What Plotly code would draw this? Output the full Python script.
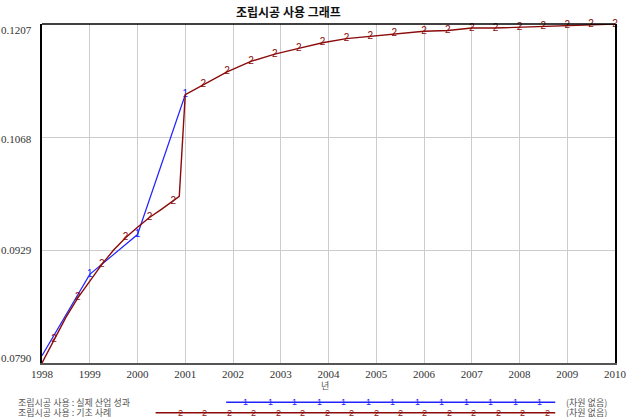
import plotly.graph_objects as go

# ---------------- data ----------------
title_text = "조립시공 사용 그래프"
x_title = "년"
unit_text = "(차원 없음)"

series1_name = "조립시공 사용 : 실제 산업 성과"
series1_t = [1998.0, 1999.0, 2000.0, 2001.0]
series1_v = [0.0799, 0.0899, 0.0948, 0.1120]
series1_mark = ["", "1", "1", "1"]

series2_name = "조립시공 사용 : 기초 사례"
series2_t = [1998.0, 1998.25, 1998.5, 1998.75, 1999.0, 1999.25, 1999.5, 1999.75,
             2000.0, 2000.25, 2000.5, 2000.75, 2000.875, 2001.0, 2001.375, 2001.875,
             2002.375, 2002.875, 2003.375, 2003.875, 2004.375, 2004.875, 2005.375,
             2006.0, 2006.5, 2007.0, 2007.5, 2008.0, 2008.5, 2009.0, 2009.5, 2010.0]
series2_v = [0.0790, 0.0819, 0.0846, 0.0870, 0.0891, 0.0911, 0.0929, 0.0944,
             0.0957, 0.0969, 0.0979, 0.0989, 0.0995, 0.1120, 0.1132, 0.1148,
             0.1161, 0.1170, 0.1177, 0.1184, 0.1189, 0.1192, 0.1195,
             0.1198, 0.1199, 0.1202, 0.1202, 0.1203, 0.1204, 0.1205, 0.1206, 0.1207]
series2_mark = ["", "2", "", "2", "", "2", "", "2",
                "", "2", "", "2", "", "", "2", "2",
                "2", "2", "2", "2", "2", "2", "2",
                "2", "2", "2", "2", "2", "2", "2", "2", "2"]

x_ticks = list(range(1998, 2011))
y_ticks = [0.0790, 0.0929, 0.1068, 0.1207]
y_tick_labels = ["0.0790", "0.0929", "0.1068", "0.1207"]

# ---------------- styling ----------------
BLUE = "#2222ff"
RED = "#8b0a0a"
W, H = 637, 417
L, R, T, B = 42, 10, 24, 54
PW, PH = W - L - R, H - T - B

def px_x(px):
    return (px - L) / PW

def px_y(py):
    return (H - B - py) / PH

fig = go.Figure()

fig.add_trace(go.Scatter(
    x=series1_t, y=series1_v, mode="lines+text", text=series1_mark,
    textposition="middle center",
    textfont=dict(family="Liberation Sans", size=10, color=BLUE),
    line=dict(color=BLUE, width=1.2), name=series1_name, showlegend=False,
    cliponaxis=False, hoverinfo="skip"))

fig.add_trace(go.Scatter(
    x=series2_t, y=series2_v, mode="lines+text", text=series2_mark,
    textposition="middle center",
    textfont=dict(family="Liberation Sans", size=10, color=RED),
    line=dict(color=RED, width=1.4), name=series2_name, showlegend=False,
    cliponaxis=False, hoverinfo="skip"))

annotations = []
shapes = []

# title
annotations.append(dict(text="<b>" + title_text + "</b>", x=px_x(294), y=px_y(12),
                        xref="paper", yref="paper", xanchor="center", yanchor="middle",
                        showarrow=False,
                        font=dict(family="Noto Sans CJK KR", size=12, color="#111")))
# x-axis title
annotations.append(dict(text=x_title, x=px_x(331), y=px_y(385), xref="paper", yref="paper",
                        showarrow=False, xanchor="center", yanchor="middle",
                        font=dict(family="Noto Sans CJK KR", size=9, color="#555")))
# y tick labels (kept inside the frame like the original)
y_shifts = [5, 0, -2, -6]
for v, lab, s in zip(y_ticks, y_tick_labels, y_shifts):
    annotations.append(dict(text=lab, x=0, y=v, xref="paper", yref="y", xanchor="right",
                            yanchor="middle", xshift=-8, yshift=s, showarrow=False,
                            font=dict(family="Liberation Serif", size=11, color="#333")))

# top frame line
shapes.append(dict(type="line", xref="paper", yref="paper", x0=0, x1=1, y0=1, y1=1,
                   line=dict(color="black", width=1.5)))

# legend rows
legend_rows = [
    (series1_name, 402.3, 230, 566, 250, "1", BLUE),
    (series2_name, 412.7, 158, 566, 183, "2", RED),
]
for name, py, lx0, lx1, m0, mk, col in legend_rows:
    annotations.append(dict(text=name, x=px_x(15), y=px_y(py), xref="paper", yref="paper",
                            xanchor="left", yanchor="middle", showarrow=False,
                            font=dict(family="Noto Sans CJK KR", size=9, color="#555")))
    annotations.append(dict(text=unit_text, x=px_x(575), y=px_y(py), xref="paper", yref="paper",
                            xanchor="left", yanchor="middle", showarrow=False,
                            font=dict(family="Noto Sans CJK KR", size=9, color="#555")))
    shapes.append(dict(type="line", xref="paper", yref="paper", x0=px_x(lx0), x1=px_x(lx1),
                       y0=px_y(py), y1=px_y(py), line=dict(color=col, width=1.4)))
    mx = m0
    while mx <= lx1 - 5:
        annotations.append(dict(text=mk, x=px_x(mx), y=px_y(py), xref="paper", yref="paper",
                                xanchor="center", yanchor="middle", showarrow=False,
                                font=dict(family="Liberation Sans", size=9, color=col)))
        mx += 25

fig.update_layout(
    width=W, height=H,
    margin=dict(l=L, r=R, t=T, b=B, pad=0),
    paper_bgcolor="white", plot_bgcolor="white",
    showlegend=False,
    annotations=annotations, shapes=shapes,
    xaxis=dict(range=[1998, 2010], tickvals=x_ticks, ticktext=[str(t) for t in x_ticks],
               showgrid=True, gridcolor="#cccccc", gridwidth=1, zeroline=False,
               showline=True, linecolor="#555555", linewidth=2, ticks="",
               tickfont=dict(family="Liberation Serif", size=11, color="#333")),
    yaxis=dict(range=[0.0790, 0.1207], tickvals=y_ticks, showticklabels=False,
               showgrid=True, gridcolor="#cccccc", gridwidth=1, zeroline=False,
               showline=True, linecolor="black", linewidth=2, mirror=True, ticks=""),
)

fig.write_html("out.html", config={"displayModeBar": False},
               post_script="document.body.style.margin='0';document.body.style.overflow='hidden';")
